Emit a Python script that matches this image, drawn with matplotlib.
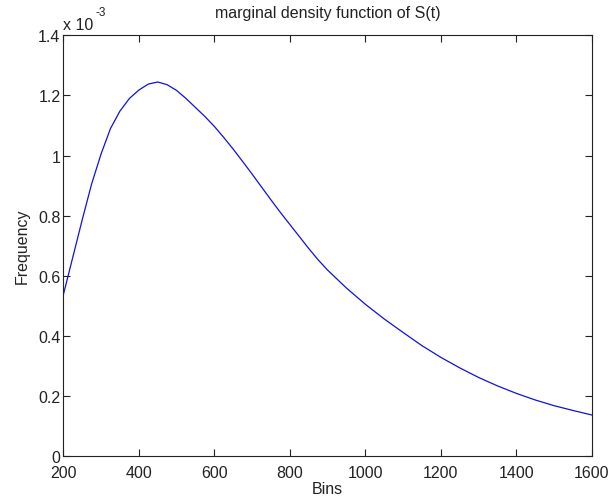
import matplotlib
matplotlib.use("Agg")
import matplotlib.pyplot as plt

plt.rcParams['font.family'] = ['Liberation Sans', 'DejaVu Sans']

# Data (frequency in units of 1e-3)
bins = [200, 225, 250, 275, 300, 325, 350, 375, 400, 425, 450, 475, 500, 525,
        550, 575, 600, 625, 650, 675, 700, 725, 750, 775, 800, 825, 850, 875,
        900, 950, 1000, 1050, 1100, 1150, 1200, 1250, 1300, 1350, 1400, 1450,
        1500, 1550, 1600]
freq_e3 = [0.535, 0.66, 0.785, 0.905, 1.005, 1.09, 1.148, 1.19, 1.218, 1.238,
           1.245, 1.236, 1.217, 1.19, 1.16, 1.13, 1.097, 1.06, 1.021, 0.98,
           0.938, 0.895, 0.852, 0.81, 0.77, 0.73, 0.69, 0.652, 0.618, 0.558,
           0.504, 0.455, 0.41, 0.366, 0.327, 0.292, 0.26, 0.232, 0.207, 0.185,
           0.166, 0.15, 0.135]

xticks = [200, 400, 600, 800, 1000, 1200, 1400, 1600]
yticks = [0, 0.2, 0.4, 0.6, 0.8, 1.0, 1.2, 1.4]
ytick_labels = ['0', '0.2', '0.4', '0.6', '0.8', '1', '1.2', '1.4']

fig = plt.figure(figsize=(6.12, 5.02), dpi=100)
ax = fig.add_axes([0.1034, 0.0906, 0.8639, 0.8367])
ax.plot(bins, freq_e3, color='#1010e0', lw=0.9)

ax.set_xlim(200, 1600)
ax.set_ylim(0, 1.4)
ax.set_xticks(xticks)
ax.set_xticklabels([str(t) for t in xticks])
ax.set_yticks(yticks)
ax.set_yticklabels(ytick_labels)
ax.tick_params(direction='in', top=True, right=True, length=5, width=0.8,
               labelsize=11.5, pad=2, colors='#222222')
ax.tick_params(axis='x', pad=6.5)
for s in ax.spines.values():
    s.set_linewidth(0.8)
    s.set_color('#222222')

ax.set_xlabel('Bins', fontsize=11.5, labelpad=1, color='#222222')
ax.set_ylabel('Frequency', fontsize=11.5, labelpad=6, color='#222222')
ax.set_title('marginal density function of S(t)', fontsize=11.5, pad=13,
             color='#222222')

fig.text(0.103, 0.934, 'x 10', fontsize=11.5, ha='left', va='bottom', color='#222222')
fig.text(0.156, 0.962, '-3', fontsize=8.5, ha='left', va='bottom', color='#222222')

fig.savefig('out.png', dpi=100)
